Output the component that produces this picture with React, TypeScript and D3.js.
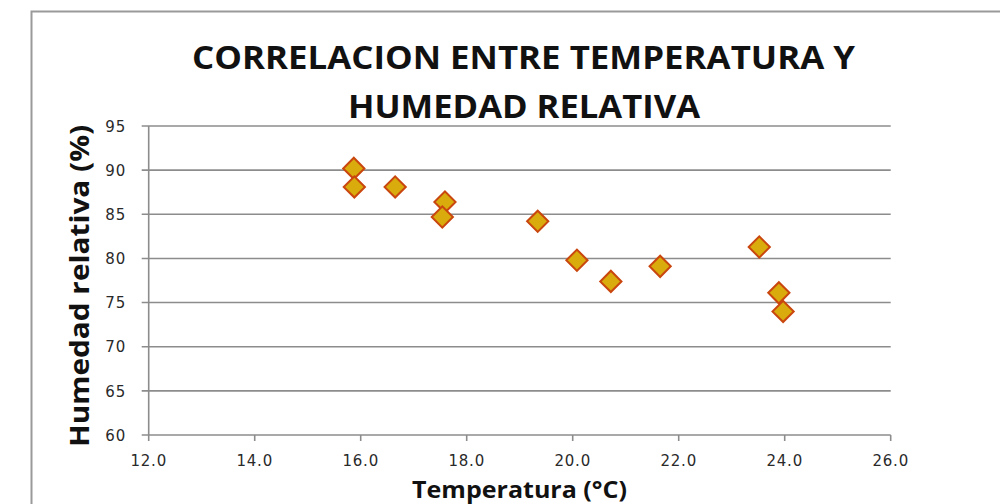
import * as d3 from 'd3';

// datos
const temperatura = [15.87, 15.88, 16.65, 17.59, 17.54, 19.34, 20.08, 20.72, 21.65, 23.52, 23.89, 23.97];
const humedad = [90.2, 88.1, 88.1, 86.4, 84.7, 84.2, 79.8, 77.4, 79.1, 81.3, 76.1, 74.0];

const xTicks = [12, 14, 16, 18, 20, 22, 24, 26];
const yTicks = [60, 65, 70, 75, 80, 85, 90, 95];

const W = 1000;
const H = 504;

export default function App() {
  const x = d3.scaleLinear().domain([12, 26]).range([148.7, 890.7]);
  const y = d3.scaleLinear().domain([60, 95]).range([435, 126]);

  const diamond = d3.symbol().type(d3.symbolSquare).size(225)();
  const pts = temperatura.map((t, i) => ({ t, h: humedad[i] }));

  const gridColor = '#8c8c8c';
  const tickFont = "'DejaVu Sans', Verdana, sans-serif";
  const titleFont = "'Open Sans', 'Noto Sans', sans-serif";

  return (
    <svg width={W} height={H} style={{ position: 'absolute', left: 0, top: 0, background: '#fff' }}>
      {/* marco del gráfico */}
      <rect x={31.5} y={11.5} width={W + 20} height={H + 20} fill="#fff" stroke="#9a9a9a" strokeWidth={2} />

      {/* título */}
      <text x={523.5} y={69} textAnchor="middle" fontFamily={titleFont} fontWeight={700} fontSize={32}
        fill="#111" textLength={663} lengthAdjust="spacingAndGlyphs">
        CORRELACION ENTRE TEMPERATURA Y
      </text>
      <text x={524} y={118} textAnchor="middle" fontFamily={titleFont} fontWeight={700} fontSize={32}
        fill="#111" textLength={352} lengthAdjust="spacingAndGlyphs">
        HUMEDAD RELATIVA
      </text>

      {/* líneas de cuadrícula */}
      {yTicks.map((v) => (
        <g key={'y' + v}>
          <line x1={x(12) - 7} x2={x(26)} y1={y(v)} y2={y(v)} stroke={gridColor} strokeWidth={1.6} />
          <text x={126} y={y(v)} dy="0.38em" textAnchor="end" fontFamily={tickFont} fontSize={15}
            letterSpacing={0.8} fill="#2a2a2a">
            {v}
          </text>
        </g>
      ))}

      {/* eje x */}
      <line x1={x(12)} x2={x(12)} y1={y(95)} y2={y(60)} stroke={gridColor} strokeWidth={1.6} />
      {xTicks.map((v) => (
        <g key={'x' + v}>
          <line x1={x(v)} x2={x(v)} y1={y(60)} y2={y(60) + 6} stroke={gridColor} strokeWidth={1.6} />
          <text x={x(v)} y={466} textAnchor="middle" fontFamily={tickFont} fontSize={15}
            letterSpacing={0.8} fill="#2a2a2a">
            {d3.format('.1f')(v)}
          </text>
        </g>
      ))}

      {/* títulos de ejes */}
      <text x={519.5} y={498} textAnchor="middle" fontFamily={titleFont} fontWeight={700} fontSize={24}
        fill="#111" textLength={215} lengthAdjust="spacingAndGlyphs">
        Temperatura (°C)
      </text>
      <text transform="translate(89,286) rotate(-90)" textAnchor="middle" fontFamily={titleFont}
        fontWeight={700} fontSize={27} fill="#111" textLength={322} lengthAdjust="spacingAndGlyphs">
        Humedad relativa (%)
      </text>

      {/* puntos */}
      {pts.map((p, i) => (
        <path key={i} d={diamond ?? ''} transform={`translate(${x(p.t)},${y(p.h)}) rotate(45)`}
          fill="#D9AB0C" stroke="#C9470F" strokeWidth={2} />
      ))}
    </svg>
  );
}
